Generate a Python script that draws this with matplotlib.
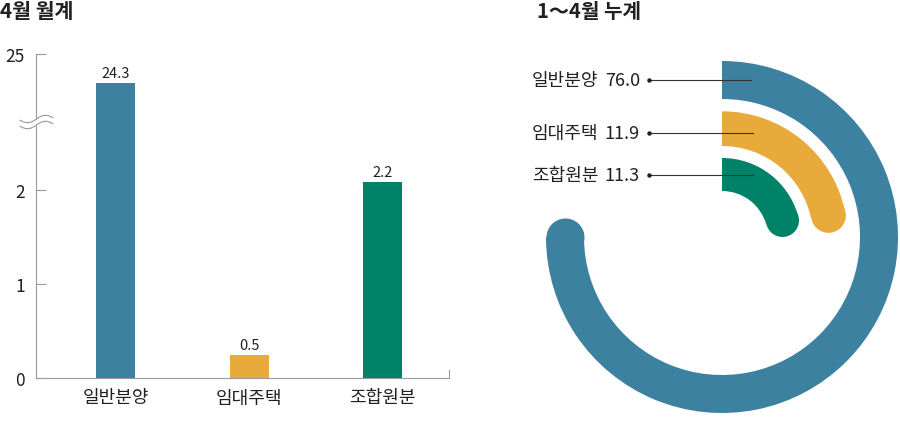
import numpy as np
import matplotlib
matplotlib.use("Agg")
import matplotlib.pyplot as plt

plt.rcParams['font.family'] = ['Noto Sans CJK KR', 'DejaVu Sans']

# ---------------- data ----------------
categories = ['일반분양', '임대주택', '조합원분']
monthly_values = [24.3, 0.5, 2.2]
monthly_labels = ['24.3', '0.5', '2.2']
cumulative_values = [76.0, 11.9, 11.3]
cumulative_labels = ['76.0', '11.9', '11.3']
arc_turn_pct = [75.0, 21.7, 20.6]          # arc length as drawn, % of a full turn
y_ticks = [0, 1, 2, 25]
y_tick_labels = ['0', '1', '2', '25']
title_left = '4월 월계'
title_right = '1～4월 누계'

colors = ['#3C82A0', '#E9AA3C', '#008268']
text_color = '#231F20'
axis_color = '#9A9A9A'

W, H = 900, 427
fig = plt.figure(figsize=(W / 100, H / 100), dpi=100)

# ---------------- left: broken-axis bar chart ----------------
knots_v = [-1, 0, 0.5, 1, 2, 2.2, 2.7, 23.6, 25, 30]
knots_d = [-1, 0, 0.245, 1, 2, 2.085, 2.7, 2.829, 3.447, 5.654]

def fwd(v):
    return np.interp(v, knots_v, knots_d)

def inv(d):
    return np.interp(d, knots_d, knots_v)

ax = fig.add_axes([36 / W, (H - 379) / H, 413 / W, 324 / H])
ax.set_yscale('function', functions=(fwd, inv))
x = np.arange(len(categories))
ax.bar(x, monthly_values, width=0.292, color=colors, linewidth=0)
ax.set_xlim(-0.596, 2.498)
ax.set_ylim(0, 25)
ax.set_yticks(y_ticks)
ax.set_yticklabels(y_tick_labels)
ax.set_xticks(x)
ax.set_xticklabels(categories)
ax.tick_params(axis='y', direction='in', length=7.2, width=0.8, color=axis_color,
               pad=8, labelsize=12.5, labelcolor=text_color)
ax.tick_params(axis='x', length=0, pad=7.5, labelsize=13, labelcolor=text_color)
ax.yaxis.set_minor_locator(matplotlib.ticker.NullLocator())
for s in ['top', 'right']:
    ax.spines[s].set_visible(False)
for s in ['left', 'bottom']:
    ax.spines[s].set_color(axis_color)
    ax.spines[s].set_linewidth(0.8)
for xi, v, lab in zip(x, monthly_values, monthly_labels):
    ax.annotate(lab, (xi, v), xytext=(0, 4.5), textcoords='offset points',
                ha='center', va='baseline', fontsize=10.5, color=text_color)

# ---------------- right: radial arcs ----------------
pax = fig.add_axes([(722 - 176) / W, (H - 238 - 176) / H, 352 / W, 352 / H],
                   projection='polar')
pax.set_theta_zero_location('N')
pax.set_theta_direction(-1)
pax.set_ylim(0, 176)
pax.axis('off')
ring_inner = [138, 91, 46]
ring_width = [38, 34.7, 33]
for i in range(3):
    ext = np.deg2rad(arc_turn_pct[i] / 100 * 360)
    pax.bar(0, ring_width[i], width=ext, bottom=ring_inner[i], align='edge',
            color=colors[i], linewidth=0, clip_on=False)
    pax.plot([ext], [ring_inner[i] + ring_width[i] / 2], 'o',
             ms=ring_width[i] * 0.72, mew=0, color=colors[i], clip_on=False)

# ---------------- overlay: titles, labels, decorations ----------------
ov = fig.add_axes([0, 0, 1, 1], zorder=5)
ov.set_xlim(0, W)
ov.set_ylim(H, 0)
ov.axis('off')
ov.patch.set_alpha(0)

ov.text(0, 12, title_left, fontsize=14.8, fontweight='bold', ha='left', va='center',
        color=text_color)
ov.text(537, 12, title_right, fontsize=14.5, fontweight='bold', ha='left', va='center',
        color=text_color)

# axis break symbol
xs = np.linspace(20, 53, 80)
wave = -3.0 * np.sin(np.pi * (xs - 36.5) / 16.5) - 0.08 * (xs - 36.5)
ov.fill_between(xs, 120 + wave, 126 + wave, color='white', linewidth=0)
ov.plot(xs, 120 + wave, color=axis_color, lw=0.8)
ov.plot(xs, 126 + wave, color=axis_color, lw=0.8)

# end tick on x axis
ov.plot([449, 449], [371, 379], color=axis_color, lw=0.8)

# leader lines and labels
lead_y = [81, 134.3, 176]
lead_end = [751, 753, 753]
for i in range(3):
    ov.plot([649, lead_end[i]], [lead_y[i], lead_y[i]], color='#333333', lw=0.8)
    ov.plot([649], [lead_y[i]], 'o', ms=3.2, color='#231F20', mew=0)
    ov.text(532, lead_y[i], categories[i], fontsize=13, ha='left', va='center',
            color=text_color)
    ov.text(640, lead_y[i], cumulative_labels[i], fontsize=13, ha='right', va='center',
            color=text_color)

fig.savefig('out.png', dpi=100)
